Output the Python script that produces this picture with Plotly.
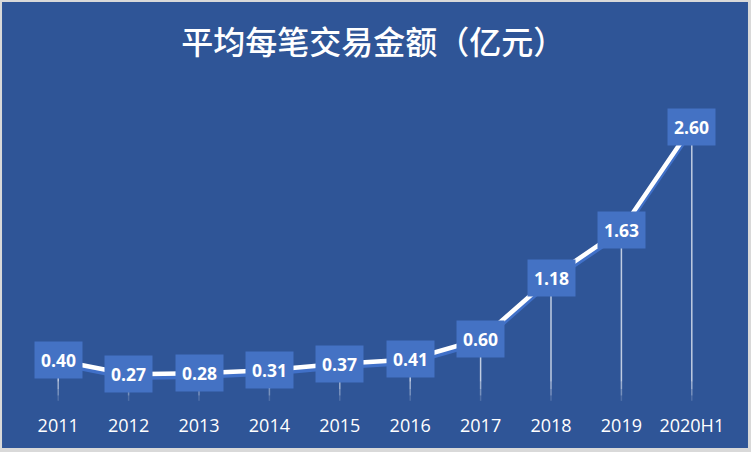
import plotly.graph_objects as go

years = ["2011", "2012", "2013", "2014", "2015", "2016", "2017", "2018", "2019", "2020H1"]
amount = [0.40, 0.27, 0.28, 0.31, 0.37, 0.41, 0.60, 1.18, 1.63, 2.60]
title_text = "平均每笔交易金额（亿元）"

bg = "#2F5597"
box = "#4472C4"
pos = list(range(len(years)))

fig = go.Figure()

# drop lines, fading out near the axis
fade = [(0.2, 0.8), (0.13, 0.6), (0.07, 0.4), (0.02, 0.18)]
for x, v in zip(pos, amount):
    top = v
    for low, op in fade:
        fig.add_trace(go.Scatter(x=[x, x], y=[top, low], mode="lines",
                                 line=dict(color=f"rgba(230,235,245,{op})", width=1.5),
                                 hoverinfo="skip", showlegend=False))
        top = low

# shadow + main line
fig.add_trace(go.Scatter(x=pos, y=[v - 0.03 for v in amount], mode="lines",
                         line=dict(color="#4070C8", width=5), hoverinfo="skip", showlegend=False))
fig.add_trace(go.Scatter(x=pos, y=amount, mode="lines",
                         line=dict(color="white", width=4.5), showlegend=False))

for x, v in zip(pos, amount):
    fig.add_annotation(x=x, y=v, text=f"<b>{v:.2f}</b>", showarrow=False,
                       bgcolor=box, borderpad=6,
                       font=dict(family="Open Sans", size=17.5, color="white"))

# blue panel inside the light grey frame
fig.add_shape(type="rect", xref="paper", yref="paper", x0=-0.0298, x1=1.0298, y0=-0.141, y1=1.257,
              fillcolor=bg, line=dict(width=0), layer="below")

fig.update_layout(
    width=751, height=452,
    margin=dict(l=23, r=24, t=84, b=49, autoexpand=False),
    paper_bgcolor="#D9D9D9",
    plot_bgcolor="rgba(0,0,0,0)",
    title=dict(text=title_text, x=0.497, xanchor="center", y=0.905, yanchor="middle",
               font=dict(family="Noto Sans CJK SC", size=32, color="white", weight=500)),
    xaxis=dict(range=[-0.5, len(years) - 0.5], tickvals=pos, ticktext=years,
               showgrid=False, zeroline=False, showline=False, automargin=False,
               ticks="outside", ticklen=6, tickcolor="rgba(0,0,0,0)",
               tickfont=dict(family="Open Sans", size=18, color="white")),
    yaxis=dict(range=[0, 3], visible=False, automargin=False),
)

fig.write_html("out.html", config={"displayModeBar": False},
               post_script="document.body.style.margin='0';")
